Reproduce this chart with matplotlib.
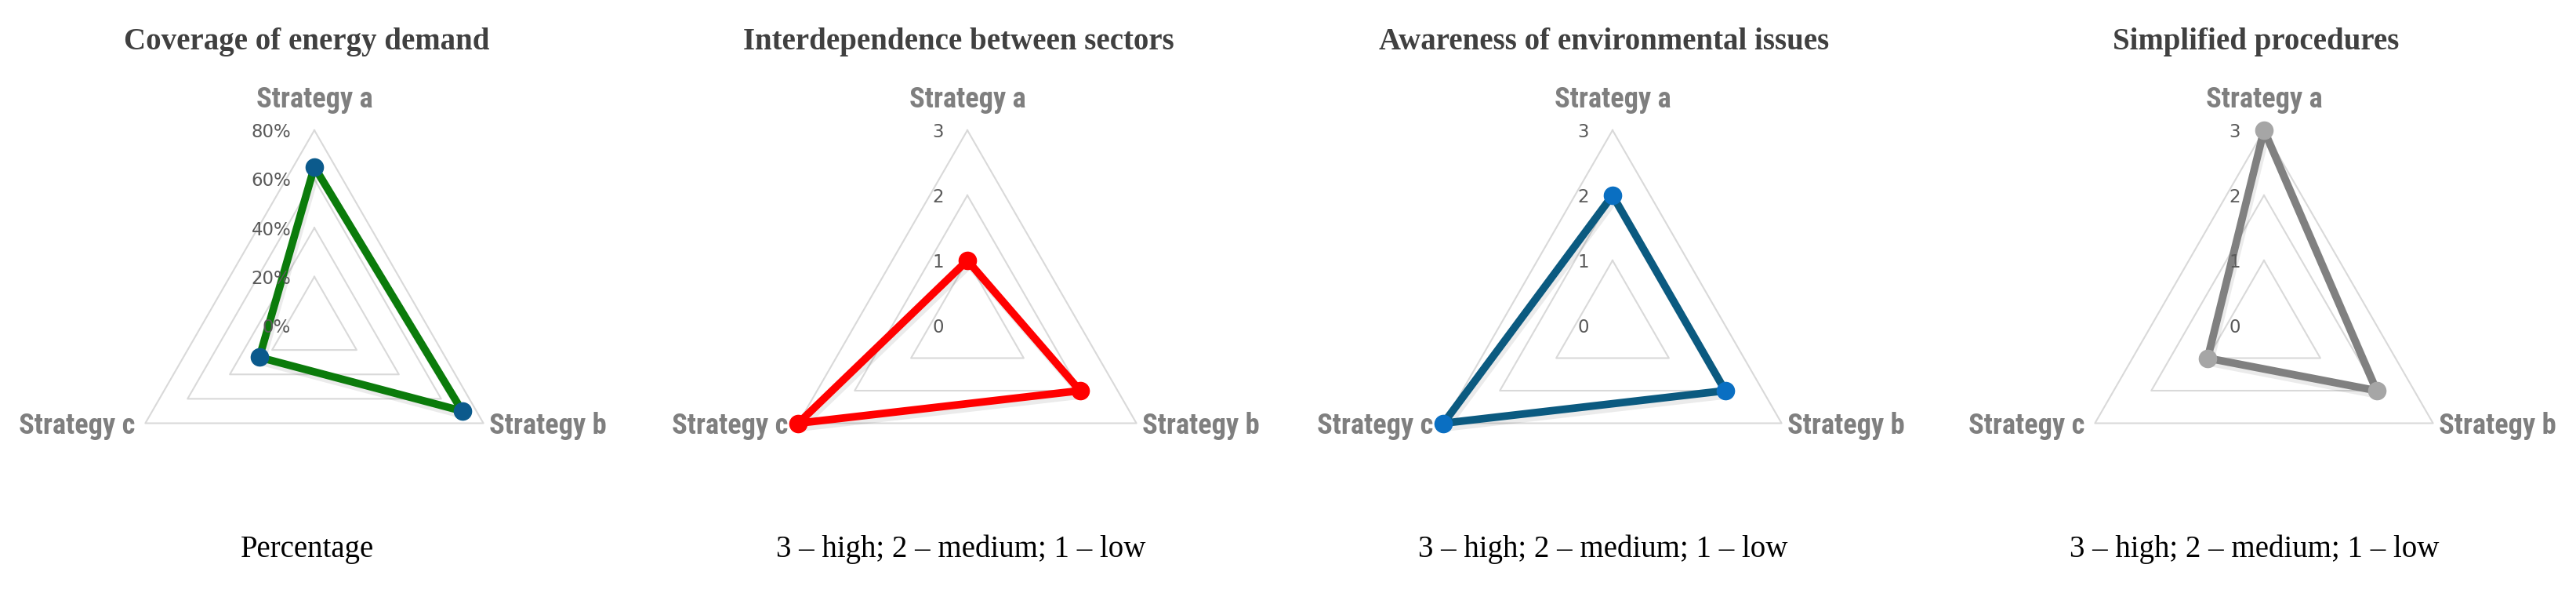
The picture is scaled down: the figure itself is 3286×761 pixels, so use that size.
import os
import numpy as np
import matplotlib
matplotlib.use("Agg")
import matplotlib.pyplot as plt
from matplotlib import font_manager as fm
from matplotlib.font_manager import FontProperties
import matplotlib.patheffects as pe

# ---------------- data ----------------
categories = ["Strategy a", "Strategy b", "Strategy c"]
coverage = [65, 70, 26]            # percent
interdependence = [1, 2, 3]
awareness = [2, 2, 3]
simplified = [3, 2, 1]

titles = ["Coverage of energy demand", "Interdependence between sectors",
          "Awareness of environmental issues", "Simplified procedures"]
captions = ["Percentage", "3 \u2013 high; 2 \u2013 medium; 1 \u2013 low",
            "3 \u2013 high; 2 \u2013 medium; 1 \u2013 low",
            "3 \u2013 high; 2 \u2013 medium; 1 \u2013 low"]
pct_ticks = [0, 20, 40, 60, 80]
pct_labels = ["0%", "20%", "40%", "60%", "80%"]
lvl_ticks = [0, 1, 2, 3]
lvl_labels = ["0", "1", "2", "3"]

series = [coverage, interdependence, awareness, simplified]
ticks = [pct_ticks, lvl_ticks, lvl_ticks, lvl_ticks]
tick_labels = [pct_labels, lvl_labels, lvl_labels, lvl_labels]
line_colors = ["#0B7B0B", "#FF0000", "#0B5A80", "#808080"]
marker_colors = ["#0B5A8C", "#FF0000", "#0A6FC2", "#A6A6A6"]

W, H = 3287, 761
fig = plt.figure(figsize=(W / 100, H / 100), dpi=100)

# ---------------- fonts ----------------
def pick_label_font():
    names = {f.name for f in fm.fontManager.ttflist}
    if "Liberation Sans Narrow" in names:
        return FontProperties(family="Liberation Sans Narrow", weight="bold", size=26)
    if "Roboto Condensed" in names:
        return FontProperties(family="Roboto Condensed", weight="bold", size=24)
    for f in fm.fontManager.ttflist:
        b = os.path.basename(f.fname)
        if b.startswith("DejaVuSansCondensed-Bold") and "Oblique" not in b:
            return FontProperties(fname=f.fname, size=19)
    return FontProperties(family="DejaVu Sans", weight="bold", size=18)

label_fp = pick_label_font()
# scale label font so that "Strategy b" is ~150 px wide, as in the reference
_renderer = fig.canvas.get_renderer()
_t = fig.text(0, 0, categories[1], fontproperties=label_fp)
_w = _t.get_window_extent(renderer=_renderer).width
_t.remove()
label_fp.set_size(label_fp.get_size() * 150.0 / _w)

centers_x = [401, 1234, 2057, 2888]
title_x = [391, 1223, 2046, 2878]
caption_x = [392, 1226, 2045, 2876]
center_y = 415      # from top
radius = 249        # px

angles = [0, 2 * np.pi / 3, 4 * np.pi / 3]

for i in range(4):
    cx = centers_x[i]
    ax = fig.add_axes([(cx - radius) / W, (H - center_y - radius) / H,
                       2 * radius / W, 2 * radius / H], projection="polar")
    ax.set_theta_zero_location("N")
    ax.set_theta_direction(-1)
    rmax = ticks[i][-1]
    ax.set_ylim(0, rmax)
    ax.grid(False)
    ax.set_xticks([])
    ax.set_yticks([])
    ax.spines["polar"].set_visible(False)
    ax.patch.set_visible(False)

    th_closed = angles + [angles[0]]
    for t in ticks[i][1:]:
        ax.plot(th_closed, [t] * 4, color="#D9D9D9", lw=1.5, zorder=1, clip_on=False)

    vals = series[i]
    ax.plot(th_closed, vals + [vals[0]], color=line_colors[i], lw=7,
            solid_joinstyle="round", zorder=3, clip_on=False,
            path_effects=[pe.SimpleLineShadow(offset=(2, -4), shadow_color="#000000", alpha=0.08),
                          pe.Normal()])
    ax.plot(angles, vals, linestyle="none", marker="o", markersize=16,
            markerfacecolor=marker_colors[i], markeredgecolor=marker_colors[i],
            zorder=4, clip_on=False)

    # radial tick labels
    for t, lab in zip(ticks[i], tick_labels[i]):
        ax.annotate(lab, xy=(0, t), xytext=(-21.5, 0), textcoords="offset points",
                    ha="right", va="center_baseline", fontsize=16.5, color="#595959",
                    family="DejaVu Sans", annotation_clip=False, zorder=5)

    # category labels
    ax.annotate(categories[0], xy=(angles[0], rmax), xytext=(0, 21),
                textcoords="offset points", ha="center", va="baseline",
                color="#7F7F7F", fontproperties=label_fp, annotation_clip=False)
    ax.annotate(categories[1], xy=(angles[1], rmax), xytext=(5, -10),
                textcoords="offset points", ha="left", va="baseline",
                color="#7F7F7F", fontproperties=label_fp, annotation_clip=False)
    ax.annotate(categories[2], xy=(angles[2], rmax), xytext=(-9, -10),
                textcoords="offset points", ha="right", va="baseline",
                color="#7F7F7F", fontproperties=label_fp, annotation_clip=False)

    fig.text(title_x[i] / W, 0.917, titles[i], ha="center", va="baseline",
             family="Liberation Serif", weight="bold", fontsize=28, color="#404040")
    fig.text(caption_x[i] / W, 0.067, captions[i], ha="center", va="baseline",
             family="Liberation Serif", fontsize=28, color="#000000")

fig.savefig("out.png", dpi=100, facecolor="white")
